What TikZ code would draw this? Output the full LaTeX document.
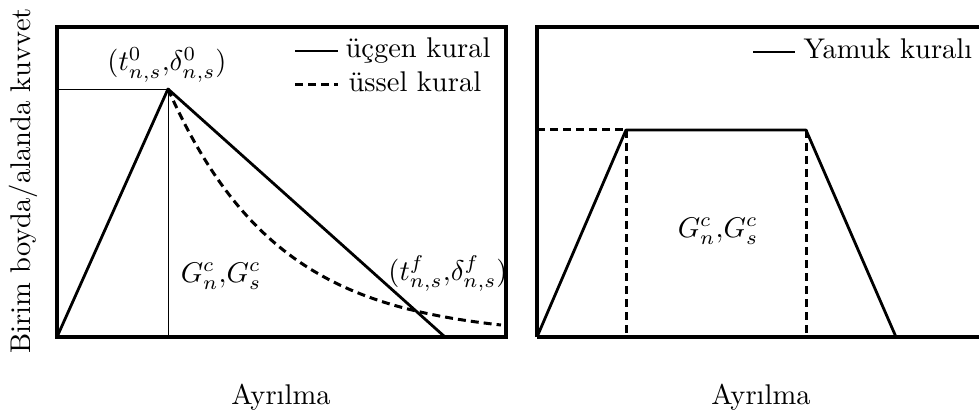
\documentclass[tikz,border=0pt]{standalone}
\usepackage{amsmath}
\begin{document}
\begin{tikzpicture}[x=1pt,y=-1pt,
  boxline/.style={line width=3.2pt},
  curve/.style={line width=2.8pt},
  thinline/.style={line width=0.8pt},
  dashline/.style={line width=3pt,dash pattern=on 8pt off 5pt},
  lbl/.style={scale=2.85, inner sep=0.3pt}]
\useasboundingbox (0,0) rectangle (979,414);
% left panel
\draw[boxline] (57,27) rectangle (506,337);
\coordinate (o1) at (57,337);
\coordinate (p1) at (168,89);
\coordinate (f1) at (445,337);
\coordinate (h1) at (57,89);
\coordinate (b1) at (168,337);
\draw[thinline] (h1) -- (p1) -- (b1);
\draw[curve, line join=round] (o1) -- (p1) -- (f1);
\draw[dashline] plot[domain=168:501, samples=90, smooth] (\x,{337-248*exp(-(\x-168)/110)});
\node[lbl, anchor=base] (pk) at (167,71) {$(t^0_{n,s}{,}\delta^0_{n,s})$};
\node[lbl, anchor=base] (g1) at (221,282) {$G^c_n{,}G^c_s$};
\node[lbl, anchor=base] (fl) at (448,280) {$(t^f_{n,s}{,}\delta^f_{n,s})$};
\coordinate (l1a) at (295,51); \coordinate (l1b) at (338,51);
\coordinate (l2a) at (295,85); \coordinate (l2b) at (338,85);
\draw[curve] (l1a) -- (l1b);
\draw[dashline] (l2a) -- (l2b);
\node[lbl, anchor=base west, inner sep=0pt] (t1) at (345,58) {üçgen kural};
\node[lbl, anchor=base west, inner sep=0pt] (t2) at (348,92) {üssel kural};
\node[lbl, rotate=90, anchor=base] (yl) at (30,181) {Birim boyda/alanda kuvvet};
\node[lbl, anchor=base] (x1) at (281,404) {Ayrılma};
% right panel
\draw[boxline] (537,337) -- (537,27) -- (990,27);
\draw[boxline] (537,337) -- (990,337);
\coordinate (o2) at (537,337);
\coordinate (a2) at (626,130);
\coordinate (b2) at (806,130);
\coordinate (c2) at (896,337);
\coordinate (h2) at (537,130);
\coordinate (d2) at (626,337);
\coordinate (e2) at (806,337);
\draw[curve, line join=round] (o2) -- (a2) -- (b2) -- (c2);
\draw[dashline] (h2) -- (a2);
\draw[dashline] (a2) -- (d2);
\draw[dashline] (b2) -- (e2);
\node[lbl, anchor=base] (g2) at (718,237) {$G^c_n{,}G^c_s$};
\coordinate (l3a) at (753,52); \coordinate (l3b) at (795,52);
\draw[curve] (l3a) -- (l3b);
\node[lbl, anchor=base west, inner sep=0pt] (t3) at (803,59) {Yamuk kuralı};
\node[lbl, anchor=base] (x2) at (761,404) {Ayrılma};
\end{tikzpicture}
\end{document}
